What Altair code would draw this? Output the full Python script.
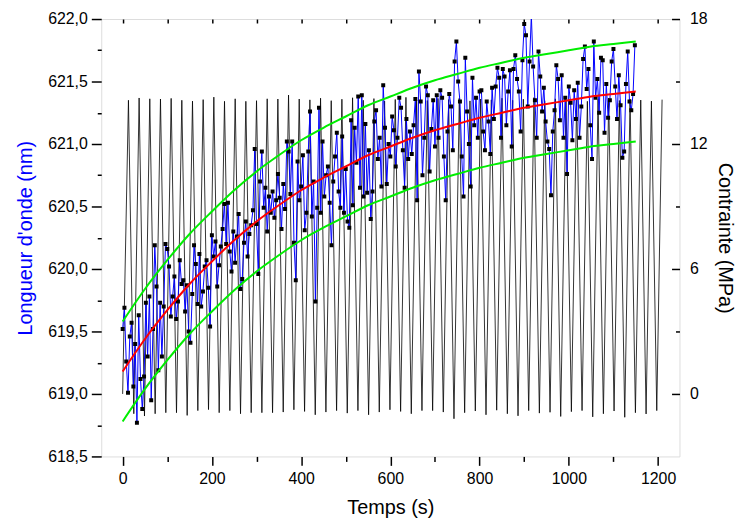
import altair as alt
import pandas as pd

# ---------------- data ----------------
# Wavelength measurements (nm), one every 4 s from t = 0 s
wl_step = 4
wl_values = [
    619.52, 619.69, 619.26, 619.01, 619.46, 619.57, 619.06, 619.40, 618.77, 619.63,
    619.12, 618.88, 619.14, 619.73, 619.30, 619.78, 618.95, 619.52, 620.19, 619.86,
    619.19, 619.73, 619.30, 619.70, 620.20,
    620.16, 620.02, 619.62, 619.78, 619.94, 619.60, 619.74, 620.07, 619.88, 619.91,
    619.66, 619.87, 619.50, 619.41, 619.80, 620.19, 620.04, 619.72, 620.12, 619.70,
    619.82, 620.02, 620.07, 619.85, 619.54,
    620.27, 620.10, 620.22, 619.86, 620.03, 620.18, 620.32, 620.52, 620.20, 620.53,
    620.14, 619.98, 620.30, 620.05, 620.26, 620.44, 619.84, 619.92, 620.21, 620.38,
    620.10, 620.28, 620.35, 620.47, 620.96,
    620.36, 619.96, 620.70, 620.94, 620.49, 620.65, 620.30, 620.58, 620.45, 620.62,
    620.41, 620.55, 620.76, 620.57, 620.32, 620.68, 620.48, 621.02, 620.94, 620.60,
    621.02, 620.21, 619.91, 620.86, 620.55,
    620.66, 620.91, 620.31, 620.45, 620.94, 621.26, 620.42, 620.70, 619.74, 620.49,
    621.29, 620.45, 621.02, 620.58, 620.75, 620.82, 620.53, 620.19, 620.70, 620.90,
    621.09, 620.62, 620.49, 621.06, 620.45,
    620.80, 620.38, 620.33, 621.19, 620.51, 621.13, 620.85, 621.38, 620.65, 621.39,
    620.58, 621.16, 620.61, 620.95, 620.40, 620.62, 621.18, 621.27, 620.88, 621.05,
    620.66, 621.47, 621.13, 620.68, 621.00,
    620.90, 621.22, 621.11, 620.82, 621.05, 621.37, 621.29, 620.95, 620.65, 621.20,
    620.88, 621.10, 620.92, 621.15, 621.36, 620.55, 621.58, 621.34, 620.75, 621.05,
    621.46, 621.39, 620.78, 621.12, 621.35,
    620.98, 621.39, 621.05, 621.43, 621.37, 620.90, 620.55, 621.10, 621.40, 621.30,
    620.95, 621.66, 621.82, 621.50, 621.34, 620.90, 620.58, 621.69, 621.26, 621.00,
    620.66, 621.53, 621.15, 621.37, 621.05,
    621.42, 621.43, 621.10, 620.95, 621.34, 621.18, 620.92, 621.45, 621.20, 621.46,
    621.61, 621.53, 621.05, 621.60, 621.54, 621.15, 621.42, 621.59, 620.98, 621.60,
    621.71, 621.52, 621.42, 621.10, 621.67,
    621.96, 621.87, 621.30, 621.66, 622.03, 621.62, 621.35, 621.05, 621.74, 621.54,
    621.26, 621.45, 621.18, 621.02, 620.96, 620.59, 621.10, 621.27, 621.63, 621.52,
    621.19, 621.55, 621.05, 621.37, 620.76,
    621.46, 621.33, 621.03, 621.43, 621.20, 621.49, 621.05, 621.30, 621.68, 621.78,
    621.44, 621.60, 621.15, 620.88, 621.82, 621.37, 621.52, 621.25, 621.69, 621.67,
    621.09, 621.48, 621.21, 621.35, 621.66,
    621.76, 621.46, 621.20, 621.55, 621.31, 620.89, 620.94, 621.48, 621.74, 621.34,
    621.27, 621.40, 621.79,
]

# Fitted curve and its two bands (nm), read every 50 s
fit_time = [0, 50, 100, 150, 200, 250, 300, 350, 400, 450, 500, 550,
            600, 650, 700, 750, 800, 850, 900, 950, 1000, 1050, 1100, 1150]
fit_values = [619.18, 619.44, 619.67, 619.88, 620.06, 620.23, 620.38, 620.51,
              620.63, 620.73, 620.82, 620.91, 620.98, 621.05, 621.11, 621.16,
              621.21, 621.25, 621.29, 621.32, 621.35, 621.38, 621.40, 621.42]
upper_values = [619.58, 619.84, 620.07, 620.28, 620.46, 620.63, 620.78, 620.91,
                621.03, 621.13, 621.22, 621.31, 621.38, 621.45, 621.51, 621.56,
                621.61, 621.65, 621.69, 621.72, 621.75, 621.78, 621.80, 621.82]
lower_values = [618.78, 619.04, 619.27, 619.48, 619.66, 619.83, 619.98, 620.11,
                620.23, 620.33, 620.42, 620.51, 620.58, 620.65, 620.71, 620.76,
                620.81, 620.85, 620.89, 620.92, 620.95, 620.98, 621.00, 621.02]

# Cyclic stress (MPa): start value, then peak / trough of each cycle
stress_start = 0.0
cycle_first_peak = 13.0
cycle_period = 23.92
cycle_rise_to_trough = 12.0
stress_peaks = [
    14.10, 14.21, 14.17, 14.16, 14.19, 14.10, 14.06, 14.13, 14.25, 14.05,
    14.17, 14.05, 14.08, 14.17, 14.16, 14.35, 14.16, 14.12, 14.20, 14.08,
    14.15, 14.22, 14.10, 14.18, 14.06, 14.14, 14.24, 14.11, 14.09, 14.19,
    14.13, 14.21, 14.07, 14.16, 14.12, 14.20, 14.10, 14.15, 14.23, 14.08,
    14.17, 14.12, 14.19, 14.05, 14.14, 14.20, 14.09, 14.16, 14.11, 14.06,
    14.13,
]
stress_troughs = [
    -0.95, -1.06, -0.95, -0.90, -0.90, -1.03, -0.80, -0.75, -0.90, -0.80,
    -0.95, -0.90, -0.90, -0.90, -0.87, -0.76, -0.84, -1.00, -0.87, -0.80,
    -0.92, -0.80, -1.00, -0.87, -0.76, -0.84, -0.95, -0.80, -0.80, -0.87,
    -1.19, -0.90, -0.82, -1.00, -0.78, -0.95, -1.05, -0.80, -0.92, -0.88,
    -1.08, -0.85, -0.80, -1.10, -0.95, -0.82, -1.12, -0.90, -0.96, -0.80,
]

x_major = [0, 200, 400, 600, 800, 1000, 1200]
x_minor = [100, 300, 500, 700, 900, 1100]
x_top = [0, 100, 200, 300, 400, 500, 600, 700, 800, 900, 1000, 1100, 1200]
wl_major = [618.5, 619.0, 619.5, 620.0, 620.5, 621.0, 621.5, 622.0]
wl_minor = [618.75, 619.25, 619.75, 620.25, 620.75, 621.25, 621.75]
st_major = [0, 6, 12, 18]
st_minor = [3, 9, 15]

# ---------------- tables ----------------
wl_df = pd.DataFrame({"t": [i * wl_step for i in range(len(wl_values))], "w": wl_values})
fit_df = pd.DataFrame({"t": fit_time, "w": fit_values})
up_df = pd.DataFrame({"t": fit_time, "w": upper_values})
lo_df = pd.DataFrame({"t": fit_time, "w": lower_values})

st_t, st_v = [0.0], [stress_start]
for k, p in enumerate(stress_peaks):
    tp = cycle_first_peak + k * cycle_period
    st_t.append(tp)
    st_v.append(p)
    if k < len(stress_troughs):
        st_t.append(tp + cycle_rise_to_trough)
        st_v.append(stress_troughs[k])
st_df = pd.DataFrame({"t": st_t, "s": st_v})

dummy = pd.DataFrame({"t": [600], "w": [620.0], "s": [6.0]})

FONT = "Liberation Sans"
X_DOM = [-48, 1248]
WL_DOM = [618.5, 622.0]
ST_DOM = [-3, 18]


def xs():
    return alt.Scale(domain=X_DOM, nice=False, zero=False)


def wls():
    return alt.Scale(domain=WL_DOM, nice=False, zero=False)


def sts():
    return alt.Scale(domain=ST_DOM, nice=False, zero=False)


def tick_axis(orient, values, size, offset=0):
    return alt.Axis(orient=orient, values=values, tickSize=size, tickWidth=1.5,
                    tickColor="black", labels=False, domain=False, grid=False,
                    title=None, offset=offset)


# stress (black) with bottom labelled x axis and right labelled y axis
stress = alt.Chart(st_df).mark_line(color="black", strokeWidth=0.8, clip=True).encode(
    x=alt.X("t:Q", scale=xs(), axis=alt.Axis(
        orient="bottom", values=x_major, format="d", tickSize=9, tickWidth=1.5,
        tickColor="black", domain=False, grid=False, labelFont=FONT,
        labelFontSize=16, labelColor="black", labelPadding=5,
        title="Temps (s)", titleFont=FONT, titleFontSize=20,
        titleFontWeight="normal", titleColor="black", titlePadding=12)),
    y=alt.Y("s:Q", scale=sts(), axis=alt.Axis(
        orient="right", values=st_major, ticks=False, domain=False, grid=False,
        labelFont=FONT, labelFontSize=16, labelColor="black", labelPadding=10,
        title="Contrainte (MPa)", titleFont=FONT, titleFontSize=20,
        titleFontWeight="normal", titleColor="black", titlePadding=8)),
)

wl_axis = alt.Axis(
    orient="left", values=wl_major, tickSize=10, tickWidth=1.5, tickColor="black",
    domain=False, grid=False, labelFont=FONT, labelFontSize=16, labelColor="black",
    labelPadding=4, labelExpr="replace(format(datum.value, '.1f'), '.', ',')",
    title="Longueur d'onde (nm)", titleFont=FONT, titleFontSize=20,
    titleFontWeight="normal", titleColor="#0000ff", titlePadding=12)


def wl_enc(ch):
    return ch.encode(x=alt.X("t:Q", scale=xs(), axis=None),
                     y=alt.Y("w:Q", scale=wls(), axis=wl_axis))


blue_line = wl_enc(alt.Chart(wl_df).mark_line(color="#0000ff", strokeWidth=1, clip=True))
squares = wl_enc(alt.Chart(wl_df).mark_square(size=16, color="black", opacity=1, clip=True))
upper = wl_enc(alt.Chart(up_df).mark_line(color="#00ee00", strokeWidth=2, clip=True, interpolate="monotone"))
lower = wl_enc(alt.Chart(lo_df).mark_line(color="#00ee00", strokeWidth=2, clip=True, interpolate="monotone"))
fit = wl_enc(alt.Chart(fit_df).mark_line(color="#ff0000", strokeWidth=2, clip=True, interpolate="monotone"))

wl_layer = alt.layer(blue_line, squares, upper, lower, fit)

# extra tick-only axes (minor ticks, inward ticks)
minor1 = alt.Chart(dummy).mark_point(opacity=0).encode(
    x=alt.X("t:Q", scale=xs(), axis=tick_axis("bottom", x_minor, 5)),
    y=alt.Y("w:Q", scale=wls(), axis=tick_axis("left", wl_minor, 4)),
)
minor2 = alt.Chart(dummy).mark_point(opacity=0).encode(
    x=alt.X("t:Q", scale=xs(), axis=tick_axis("top", x_top, 4, offset=-4)),
    y=alt.Y("s:Q", scale=sts(), axis=tick_axis("right", st_major, 8, offset=-8)),
)
minor3 = alt.Chart(dummy).mark_point(opacity=0).encode(
    x=alt.X("t:Q", scale=xs(), axis=None),
    y=alt.Y("s:Q", scale=sts(), axis=tick_axis("right", st_minor, 4, offset=-4)),
)

chart = alt.layer(stress, wl_layer, minor1, minor2, minor3).resolve_scale(
    x="independent", y="independent"
).properties(
    width=583, height=441,
    autosize=alt.AutoSizeParams(type="none"),
    padding={"left": 94, "top": 9, "right": 59, "bottom": 66},
).configure_view(stroke="black", strokeWidth=1.8).configure(background="white")

chart.save("out.html", embed_options={"renderer": "svg", "actions": False})
